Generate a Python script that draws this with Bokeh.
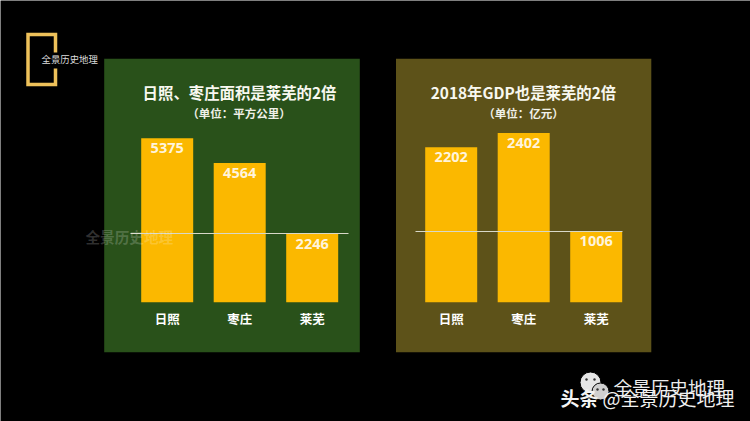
from bokeh.plotting import figure
from bokeh.models import Range1d
from bokeh.core.properties import value
from bokeh.embed import file_html
from bokeh.resources import INLINE

categories_a = ["日照", "枣庄", "莱芜"]
values_a = [5375, 4564, 2246]
categories_b = ["日照", "枣庄", "莱芜"]
values_b = [2202, 2402, 1006]
idx = [0, 1, 2]

title_a = "日照、枣庄面积是莱芜的2倍"
sub_a = "（单位：平方公里）"
title_b = "2018年GDP也是莱芜的2倍"
sub_b = "（单位：亿元）"
brand = "全景历史地理"

CJK = value("Noto Sans CJK SC")
BAR = "#fbb800"
L, R, T, B = 0, 750, 0, 421

p = figure(width=R - L, height=B - T, x_range=Range1d(L, R), y_range=Range1d(B, T),
           x_axis_location=None, y_axis_location=None, toolbar_location=None,
           output_backend="svg", min_border=0, outline_line_color=None,
           background_fill_color="#000000", border_fill_color="#000000")
p.grid.visible = False


def value_range(base_px, px_per_unit):
    return Range1d((base_px - B) / px_per_unit, (base_px - T) / px_per_unit)


def index_range(first_px, pitch):
    return Range1d((L - first_px) / pitch, (R - first_px) / pitch)


PITCH = 72.5
BAR_W = 52 / PITCH
p.extra_x_ranges = {"xa": index_range(166.7, PITCH), "xb": index_range(450.7, PITCH)}
p.extra_y_ranges = {"ya": value_range(301.7, 164 / 5375), "yb": value_range(301.7, 155 / 2202)}


def panel(x0, x1, fill, cats, vals, xr, yr, title, tx, sub, sx, line_x):
    p.quad(left=[x0], right=[x1], top=[58.3], bottom=[351.7], fill_color=fill, line_color=None)
    p.vbar(x=idx, top=vals, bottom=0, width=BAR_W, fill_color=BAR, line_color=None,
           x_range_name=xr, y_range_name=yr)
    p.text(x=idx, y=vals, text=[str(v) for v in vals], x_range_name=xr, y_range_name=yr,
           text_font=value("Open Sans"), text_font_style="bold", text_font_size="14.5px",
           text_color="#fff4dc", text_align="center", text_baseline="middle", y_offset=10)
    p.text(x=idx, y=[0, 0, 0], text=cats, x_range_name=xr, y_range_name=yr,
           text_font=CJK, text_font_style="bold", text_font_size="12.5px",
           text_color="#ffffff", text_align="center", text_baseline="middle", y_offset=16)
    p.text(x=[tx], y=[91], text=[title], text_font=CJK, text_font_style="bold",
           text_font_size="15.4px", text_color="#f8f8f0", text_align="center", text_baseline="middle")
    p.text(x=[sx], y=[112.5], text=[sub], text_font=CJK, text_font_style="bold",
           text_font_size="11.5px", text_color="#f0f0e8", text_align="center", text_baseline="middle")
    p.line(x=line_x[:2], y=[line_x[2]] * 2, line_color="#d8d8c8", line_width=1)


panel(103.7, 359.3, "#29511a", categories_a, values_a, "xa", "ya", title_a, 239, sub_a, 238.5, (130, 348, 233))
panel(395.5, 650.8, "#5d5219", categories_b, values_b, "xb", "yb", title_b, 523, sub_b, 523, (415, 622, 231))

# Logo bracket
p.multi_line(xs=[[55, 55, 27.5, 27.5, 55, 55]], ys=[[52, 34, 34, 84, 84, 68]],
             line_color="#eec15a", line_width=3.5, line_join="miter")
p.text(x=[41], y=[58.5], text=[brand], text_font=CJK, text_font_size="9.4px",
       text_color="#dddddd", text_baseline="middle")

# Faint watermark over the left panel
p.text(x=[85], y=[236], text=[brand], text_font=CJK, text_font_style="bold", text_font_size="14.6px",
       text_color="#ffffff", text_alpha=0.2, text_baseline="middle")

# Bottom-right watermark
p.circle(x=[590, 600], y=[382, 391], radius=[10.5, 8.5], fill_color=["#e6e6e6", "#d0d0d0"],
         line_color="#000000", line_width=1)
p.circle(x=[586, 594, 597, 603], y=[379, 379, 389, 389], radius=1.2, fill_color="#333333", line_color=None)
p.text(x=[613], y=[386], text=[brand], text_font=CJK, text_font_size="18.6px",
       text_color="#ececec", text_baseline="middle")
p.text(x=[560], y=[397], text=["头条"], text_font=CJK, text_font_style="bold", text_font_size="19px",
       text_color="#f4f4f4", text_baseline="middle")
p.text(x=[602], y=[397], text=["@" + brand], text_font=CJK, text_font_size="19px",
       text_color="#f0f0f0", text_baseline="middle")

open("out.html", "w").write(file_html(p, INLINE))
